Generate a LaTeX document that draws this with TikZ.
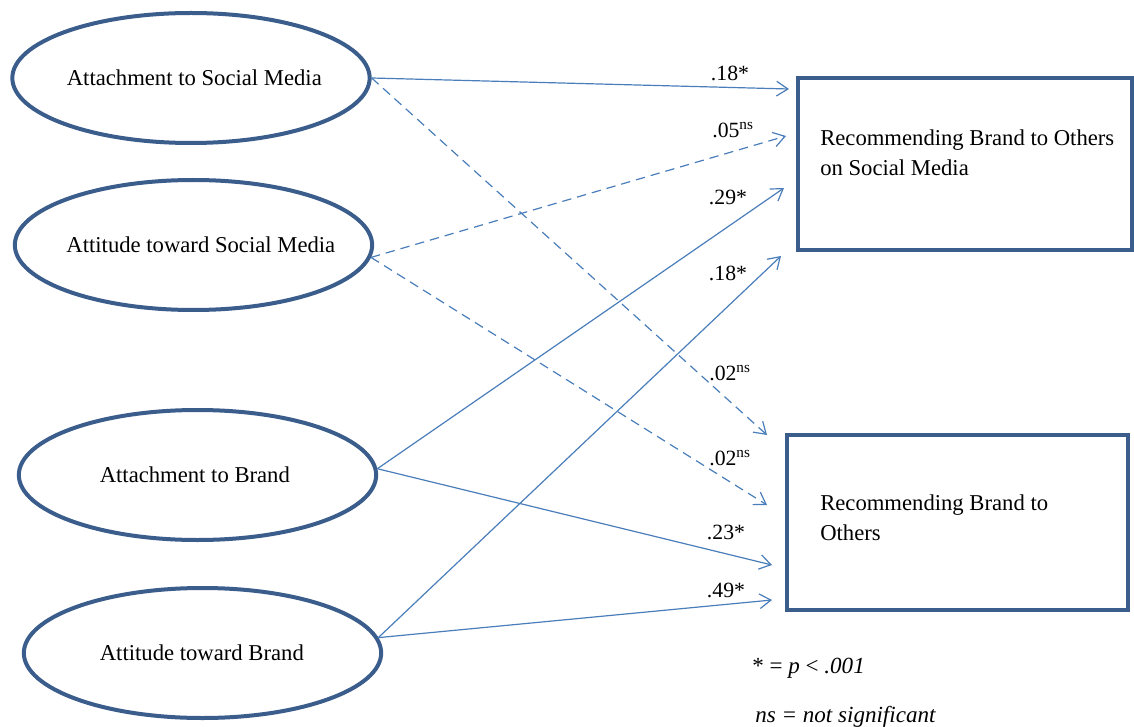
\documentclass[tikz,border=0pt]{standalone}
\usepackage{fontspec}
\setmainfont{Liberation Serif}
\usetikzlibrary{shapes.geometric,arrows.meta}
\definecolor{ellc}{HTML}{3A5D8C}
\definecolor{arrc}{HTML}{4A7EBB}
\begin{document}
\begin{tikzpicture}[x=0.75pt,y=-0.75pt,
  ell/.style={ellipse,draw=ellc,line width=3pt,minimum width=268pt,minimum height=97.5pt,inner sep=0pt},
  elltext/.style 2 args={label={[font=\fontsize{17}{20}\selectfont,inner sep=0pt,xshift=#2]center:#1}},
  boxnode/.style={draw=ellc,line width=3pt,inner sep=0pt},
  boxtext/.style={anchor=west,align=left,inner sep=0pt,font=\fontsize{17}{22.5}\selectfont},
  conn/.style={draw=arrc,line width=0.9pt,-{Straight Barb[length=8.5pt,width=11pt,line width=0.9pt]}},
  nsconn/.style={conn,dash pattern=on 7pt off 4.5pt},
  lab/.style={font=\fontsize{16.3}{19}\selectfont,inner sep=0pt},
  note/.style={anchor=west,inner sep=0pt,font=\fontsize{17.3}{20}\selectfont}]
\useasboundingbox (0,0) rectangle (1134,727);
\fill[white] (0,0) rectangle (1134,727);

% ellipses
\node[ell,elltext={Attachment to Social Media}{2.5pt}] (e1) at (191,78) {};
\node[ell,elltext={Attitude toward Social Media}{5.5pt}] (e2) at (193.5,245) {};
\node[ell,elltext={Attachment to Brand}{-2pt}] (e3) at (197.5,475) {};
\node[ell,elltext={Attitude toward Brand}{-0.5pt}] (e4) at (202.5,653) {};

% boxes
\node[boxnode,minimum width=250.5pt,minimum height=129pt] (b1) at (965,164) {};
\node[boxtext] (t1) at (820,153) {Recommending Brand to Others\\on Social Media};
\node[boxnode,minimum width=255.75pt,minimum height=131.25pt] (b2) at (957.5,522.5) {};
\node[boxtext] (t2) at (820,518) {Recommending Brand to\\Others};

% arrow end points
\coordinate (a1) at (789,89);
\coordinate (a2) at (786,136);
\coordinate (a3) at (784,188);
\coordinate (a4) at (781,256);
\coordinate (a5) at (767,435);
\coordinate (a6) at (767,505);
\coordinate (a7) at (772,565);
\coordinate (a8) at (772,600);

\draw[conn] (e1.east) -- (a1);
\draw[nsconn] (e1.east) -- (a5);
\draw[nsconn] (e2.356) -- (a2);
\draw[nsconn] (e2.356) -- (a6);
\draw[conn] (e3.2) -- (a3);
\draw[conn] (e3.2) -- (a7);
\draw[conn] (e4.5) -- (a4);
\draw[conn] (e4.5) -- (a8);

% labels
\node[lab] (l1) at (730,73) {.18*};
\node[lab] (l2) at (733,130) {.05\textsuperscript{ns}};
\node[lab] (l3) at (728,197) {.29*};
\node[lab] (l4) at (728,273) {.18*};
\node[lab] (l5) at (730,373) {.02\textsuperscript{ns}};
\node[lab] (l6) at (730,458) {.02\textsuperscript{ns}};
\node[lab] (l7) at (726,532) {.23*};
\node[lab] (l8) at (726,590) {.49*};

% notes
\node[note] (n1) at (752,668) {* = \textit{p} < \textit{.001}};
\node[note] (n2) at (755,717) {\textit{ns = not significant}};
\end{tikzpicture}
\end{document}
